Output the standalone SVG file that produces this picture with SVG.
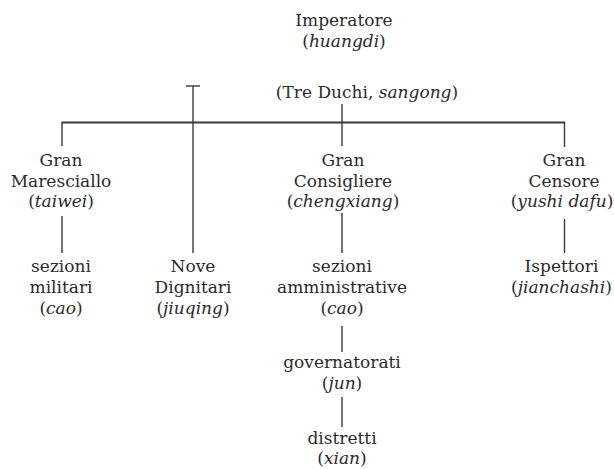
<svg xmlns="http://www.w3.org/2000/svg" width="614" height="469" viewBox="0 0 614 469">
<style>
text{font-family:"DejaVu Serif","Liberation Serif",serif;font-size:17px;fill:#2b2b2b;text-anchor:middle}
.i{font-style:italic}
.c line{stroke:#3a3a3a;stroke-width:1.4;fill:none}
.c line.h{stroke-width:1.8}
</style>
<rect width="614" height="469" fill="#ffffff"/>
<g id="connectors" class="c">
<line class="h" x1="61.5" y1="122.5" x2="565" y2="122.5"/>
<line x1="186" y1="86" x2="200" y2="86"/>
<line x1="193" y1="86" x2="193" y2="253"/>
<line x1="342" y1="104" x2="342" y2="146"/>
<line x1="62" y1="122.5" x2="62" y2="146"/>
<line x1="564.5" y1="122.5" x2="564.5" y2="147"/>
<line x1="62" y1="216" x2="62" y2="253"/>
<line x1="342" y1="213" x2="342" y2="253"/>
<line x1="564.5" y1="219" x2="564.5" y2="253"/>
<line x1="342" y1="326" x2="342" y2="352"/>
<line x1="342" y1="397" x2="342" y2="427"/>
</g>
<g id="imperatore">
<text x="344" y="26">Imperatore</text>
<text x="344" y="47">(<tspan class="i">huangdi</tspan>)</text>
</g>
<g id="treduchi">
<text x="367" y="98">(Tre Duchi, <tspan class="i">sangong</tspan>)</text>
</g>
<g id="maresciallo">
<text x="61" y="166">Gran</text>
<text x="61" y="186.5">Maresciallo</text>
<text x="61" y="207">(<tspan class="i">taiwei</tspan>)</text>
</g>
<g id="consigliere">
<text x="343" y="166">Gran</text>
<text x="343" y="186.5">Consigliere</text>
<text x="343" y="207">(<tspan class="i">chengxiang</tspan>)</text>
</g>
<g id="censore">
<text x="564" y="166">Gran</text>
<text x="564" y="186.5">Censore</text>
<text x="562" y="207">(<tspan class="i">yushi dafu</tspan>)</text>
</g>
<g id="sezioni-militari">
<text x="61" y="272">sezioni</text>
<text x="61" y="293">militari</text>
<text x="61" y="313.5">(<tspan class="i">cao</tspan>)</text>
</g>
<g id="nove-dignitari">
<text x="193" y="272">Nove</text>
<text x="193" y="293">Dignitari</text>
<text x="193" y="313.5">(<tspan class="i">jiuqing</tspan>)</text>
</g>
<g id="sezioni-amministrative">
<text x="342" y="272">sezioni</text>
<text x="342" y="293">amministrative</text>
<text x="342" y="313.5">(<tspan class="i">cao</tspan>)</text>
</g>
<g id="ispettori">
<text x="561.5" y="272">Ispettori</text>
<text x="561.5" y="293">(<tspan class="i">jianchashi</tspan>)</text>
</g>
<g id="governatorati">
<text x="342" y="368">governatorati</text>
<text x="342" y="388.5">(<tspan class="i">jun</tspan>)</text>
</g>
<g id="distretti">
<text x="342" y="444">distretti</text>
<text x="342" y="464">(<tspan class="i">xian</tspan>)</text>
</g>
</svg>
